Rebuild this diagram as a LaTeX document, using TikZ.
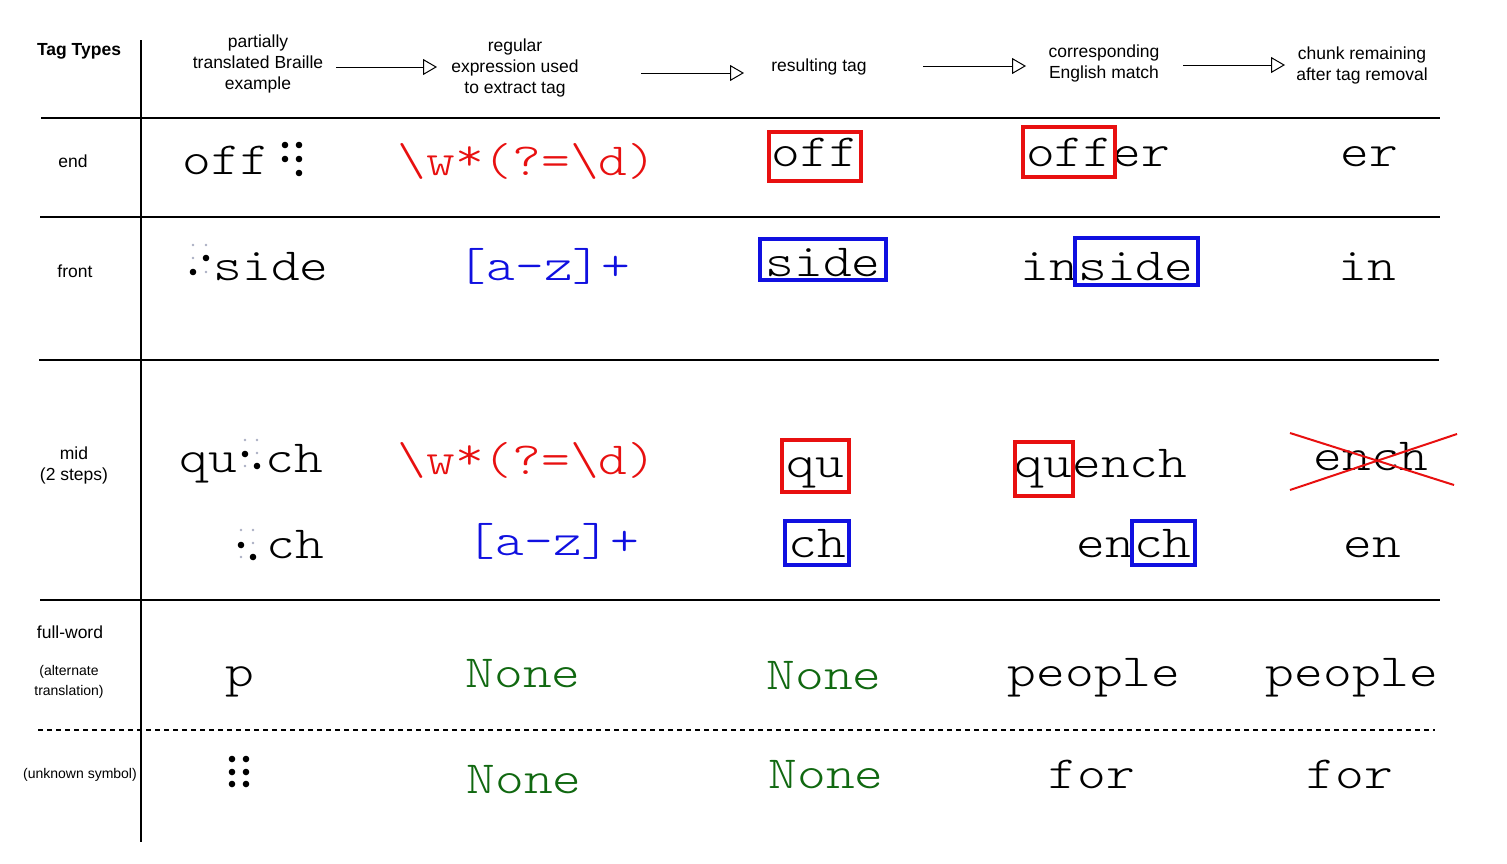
\documentclass[tikz,border=0pt]{standalone}
\usepackage{fontspec}
\setmainfont{Liberation Sans}
\newfontfamily\monofont{Latin Modern Mono Light}[FakeStretch=1.19]
\usetikzlibrary{arrows.meta}
\definecolor{tred}{RGB}{232,16,16}
\definecolor{tblue}{RGB}{16,16,224}
\definecolor{tgreen}{RGB}{16,104,16}
\definecolor{faint}{RGB}{170,175,195}
\tikzset{
  mono/.style={font=\monofont\fontsize{46}{50}\selectfont, inner sep=0pt, anchor=base},
  hdr/.style={font=\fontsize{17.5}{21}\selectfont, align=center, inner sep=0pt},
  hdrb/.style={font=\fontsize{17.5}{21}\selectfont\bfseries, align=center, inner sep=0pt},
  small/.style={font=\fontsize{14}{20}\selectfont, align=center, inner sep=0pt},
  rule/.style={line width=2pt},
  flow/.style={line width=1pt, -{Triangle[open,length=14pt,width=16pt]}},
  redbox/.style={draw=tred, line width=3.5pt},
  bluebox/.style={draw=tblue, line width=3.5pt},
  cross/.style={draw=tred, line width=2pt},
}
\newcommand{\bdot}[2]{\fill[black] (#1,#2) circle (3.3pt);}
\newcommand{\gdot}[2]{\fill[faint] (#1,#2) circle (1.3pt);}
\newcommand{\regexend}{\textbackslash w\raisebox{5pt}{*}(?=\textbackslash d)}
\begin{document}
\begin{tikzpicture}[x=1pt,y=-1pt]
\useasboundingbox (0,0) rectangle (1507,863);
\fill[white] (0,0) rectangle (1507,863);

% header
\node[hdrb] (tt) at (79,51) {Tag Types};
\node[hdr] (h1) at (258,64) {partially\\translated Braille\\example};
\node[hdr] (h2) at (515,68) {regular\\expression used\\to extract tag};
\node[hdr] (h3) at (819,67) {resulting tag};
\node[hdr] (h4) at (1104,63.5) {corresponding\\English match};
\node[hdr] (h5) at (1362,65.5) {chunk remaining\\after tag removal};
\coordinate (a1s) at (336,67); \coordinate (a1e) at (437,67);
\coordinate (a2s) at (641,73); \coordinate (a2e) at (744,73);
\coordinate (a3s) at (923,66); \coordinate (a3e) at (1026,66);
\coordinate (a4s) at (1183,65); \coordinate (a4e) at (1285,65);
\draw[flow] (a1s) -- (a1e);
\draw[flow] (a2s) -- (a2e);
\draw[flow] (a3s) -- (a3e);
\draw[flow] (a4s) -- (a4e);

% grid
\draw[rule] (141,40) -- (141,842);
\draw[rule] (41,118) -- (1440,118);
\draw[rule] (40,217) -- (1440,217);
\draw[rule] (39,360) -- (1439,360);
\draw[rule] (40,600) -- (1440,600);
\draw[line width=2pt, dash pattern=on 5pt off 4pt] (38,730) -- (1435,730);

% row labels
\node[hdr] (lend) at (73,161) {end};
\node[hdr] (lfront) at (75,271) {front};
\node[hdr] (lmid) at (74,465.5) {mid\\(2 steps)};
\node[hdr] (lfull) at (70,632) {full-word};
\node[small] (lalt) at (69,682) {(alternate\\translation)};
\node[small] (lunk) at (80,775) {(unknown symbol)};

% row: end
\node[mono] (e1) at (226,174) {off};
\bdot{285}{145}\bdot{299}{145}\bdot{285}{159}\bdot{299}{159}\bdot{299}{173}
\node[mono,text=tred] (e2) at (527,175) {\regexend};
\node[mono] (e3) at (815,166) {off};
\draw[redbox] (769,132) rectangle (861,181);
\node[mono,anchor=base west] (e4) at (1026,166) {offer};
\draw[redbox] (1023,127) rectangle (1115,177);
\node[mono] (e5) at (1369,166) {er};

% row: front
\gdot{193}{245}\gdot{206}{245}\gdot{193}{258}\gdot{206}{272}
\bdot{206}{258}\bdot{193}{272}
\node[mono] (f1) at (271,280) {side};
\node[mono,text=tblue] (f2) at (544,280) {[a-z]+};
\node[mono] (f3) at (823,276) {side};
\draw[bluebox] (760,239) rectangle (886,280);
\node[mono] (f4) at (1107,280) {inside};
\draw[bluebox] (1075,238) rectangle (1198,285);
\node[mono] (f5) at (1367,280) {in};

% row: mid, step 1
\node[mono] (m1a) at (208,472) {qu};
\gdot{245}{440}\gdot{257}{440}\gdot{257}{453}\gdot{245}{466}
\bdot{245}{454}\bdot{257}{466}
\node[mono] (m1b) at (294,472) {ch};
\node[mono,text=tred] (m2) at (527,474) {\regexend};
\node[mono] (m3) at (815,477) {qu};
\draw[redbox] (782,440) rectangle (849,492);
\node[mono] (m4) at (1101,477) {quench};
\draw[redbox] (1015,442) rectangle (1073,496);
\node[mono] (m5) at (1371,470) {ench};
\draw[cross] (1290,433) -- (1454,485);
\draw[cross] (1290,490) -- (1457,434);

% row: mid, step 2
\gdot{241}{530}\gdot{253}{530}\gdot{253}{543}\gdot{241}{557}
\bdot{241}{545}\bdot{253}{557}
\node[mono] (s1) at (295,558) {ch};
\node[mono,text=tblue] (s2) at (553,555) {[a-z]+};
\node[mono] (s3) at (817,557) {ch};
\draw[bluebox] (785,521) rectangle (849,565);
\node[mono] (s4) at (1134,557) {ench};
\draw[bluebox] (1132,521) rectangle (1195,565);
\node[mono] (s5) at (1372,557) {en};

% row: full-word
\node[mono] (w1) at (240,686) {p};
\node[mono,text=tgreen] (w2) at (523,687) {None};
\node[mono,text=tgreen] (w3) at (824,689) {None};
\node[mono] (w4) at (1094,686) {people};
\node[mono] (w5) at (1352,686) {people};

% row: unknown symbol
\bdot{232}{759}\bdot{246}{759}\bdot{232}{772}\bdot{246}{772}\bdot{232}{784}\bdot{246}{784}
\node[mono,text=tgreen] (u2) at (524,793) {None};
\node[mono,text=tgreen] (u3) at (826,788) {None};
\node[mono] (u4) at (1092,788) {for};
\node[mono] (u5) at (1350,788) {for};
\end{tikzpicture}
\end{document}
